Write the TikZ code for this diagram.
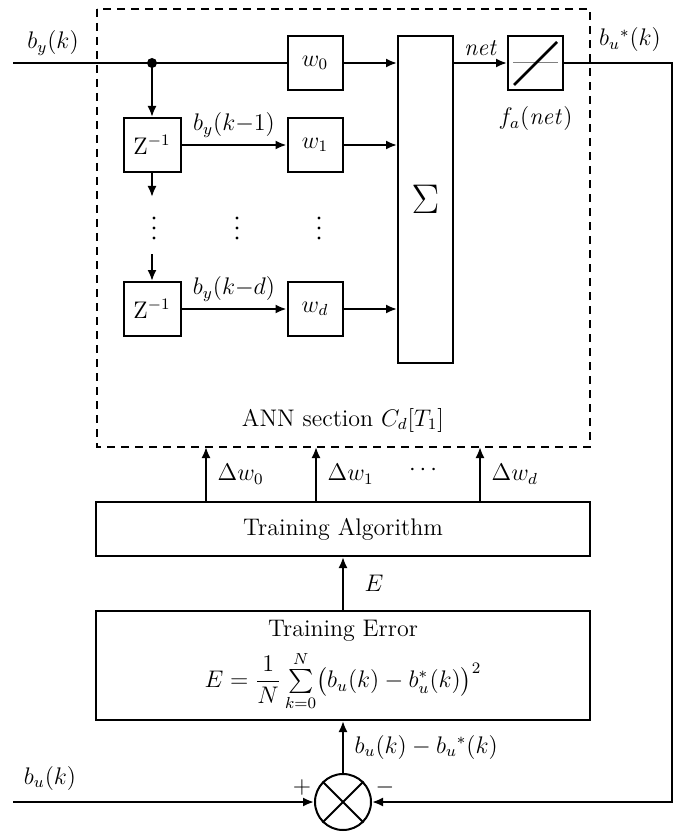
\documentclass[tikz,border=0pt]{standalone}
\usepackage{amsmath, amssymb}
\usetikzlibrary{arrows.meta}

\begin{document}
\begin{tikzpicture}[x=0.5pt, y=-0.5pt, line width=1pt,
    >={Latex[length=5.5pt,width=4.5pt]},
    blk/.style={draw, rectangle, inner sep=0pt, minimum width=27.5pt, minimum height=27pt, font=\large},
    lbl/.style={font=\large}]
        \useasboundingbox (0,0) rectangle (680,834);
        % ANN section
        \draw[line width=0.6pt, dash pattern=on 4pt off 3pt] (97,9) rectangle (590,447);
        \node[lbl] (ann) at (343,420) {ANN section $C_d[T_1]$};
        \coordinate (yin) at (13,63);
        \coordinate (tap) at (152,63);
        \coordinate (yout) at (672,63);
        \coordinate (fbk) at (672,802);
        \coordinate (uin) at (13,802);
        \coordinate (z1out) at (152,197);
        \coordinate (zdin) at (152,254);
        \node[blk] (w0) at (315,63) {$w_0$};
        \node[blk] (w1) at (315,145) {$w_1$};
        \node[blk] (wd) at (315,309) {$w_d$};
        \node[blk, minimum width=28.5pt] (z1) at (152,145) {Z$^{-1}$};
        \node[blk, minimum width=28.5pt] (zd) at (152,309) {Z$^{-1}$};
        \node[blk, minimum height=163.5pt] (sig) at (425.5,199.5) {\huge$\Sigma$};
        \node[blk] (act) at (535.5,63) {};
        \draw[gray, line width=0.5pt] (513,63) -- (558,63);
        \draw[line width=1.3pt] (514,85) -- (557,42);
        \foreach \x in {154,237,319} \foreach \y in {218,228,238} \fill (\x,\y) circle (0.8pt);
        \node[lbl] (yk) at (53,43) {$b_y(k)$};
        \node[lbl] (uk) at (50,778) {$b_u(k)$};
        \node[lbl] (ustar) at (630,40) {$b_u{}^{*}(k)$};
        % signal flow
        \draw (yin) -- (w0.west);
        \fill (tap) circle (2.5pt);
        \draw[->] (tap) -- (z1.north);
        \draw[->] (z1.south) -- (z1out);
        \draw[->] (zdin) -- (zd.north);
        \draw[->] (z1) -- (w1) node[midway, above, lbl] {$b_y(k{-}1)$};
        \draw[->] (zd) -- (wd) node[midway, above, lbl] {$b_y(k{-}d)$};
        \foreach \w in {w0,w1,wd} \draw[->] (\w.east) -- (\w.east -| sig.west);
        \draw[->] (sig.east |- act.west) -- (act.west) node[midway, above, lbl] {\textit{net}};
        \node[lbl, below=4pt] (fa) at (act.south) {$f_a(\mathit{net})$};
        % training
        \node[blk, minimum width=247pt] (alg) at (343,529) {Training Algorithm};
        \node[blk, minimum width=247pt, minimum height=54.5pt, align=center] (err) at (343,665.5)
            {Training Error\\[4pt] $E=\dfrac{1}{N}\sum\limits_{k=0}^{N}\bigl(b_u(k)-b_u^{*}(k)\bigr)^2$};
        \node[draw, circle, minimum size=28pt, inner sep=0pt] (cmp) at (343,802) {};
        \draw (cmp.45) -- (cmp.225) (cmp.135) -- (cmp.-45);
        \foreach \x/\i in {206/0,316/1,480/d} {
            \coordinate (dw\i) at (\x,447);
            \draw[->] (alg.north -| dw\i) -- (dw\i) node[midway, right=2pt, lbl] {$\Delta w_{\i}$};
        }
        \node[lbl] (dwdots) at (425,470) {$\cdots$};
        \draw[->] (err.north) -- (alg.south) node[midway, right=7pt, lbl] {$E$};
        \draw[->] (cmp.north) -- (err.south) node[midway, right=2pt, lbl] {$b_u(k)-b_u{}^{*}(k)$};
        \draw[->] (uin) -- (cmp.west);
        \draw[->] (act.east) -- (yout) -- (fbk) -- (cmp.east);
        \node[lbl] (plus) at (302,787) {$+$};
        \node[lbl] (minus) at (385,787) {$-$};
\end{tikzpicture}
\end{document}
